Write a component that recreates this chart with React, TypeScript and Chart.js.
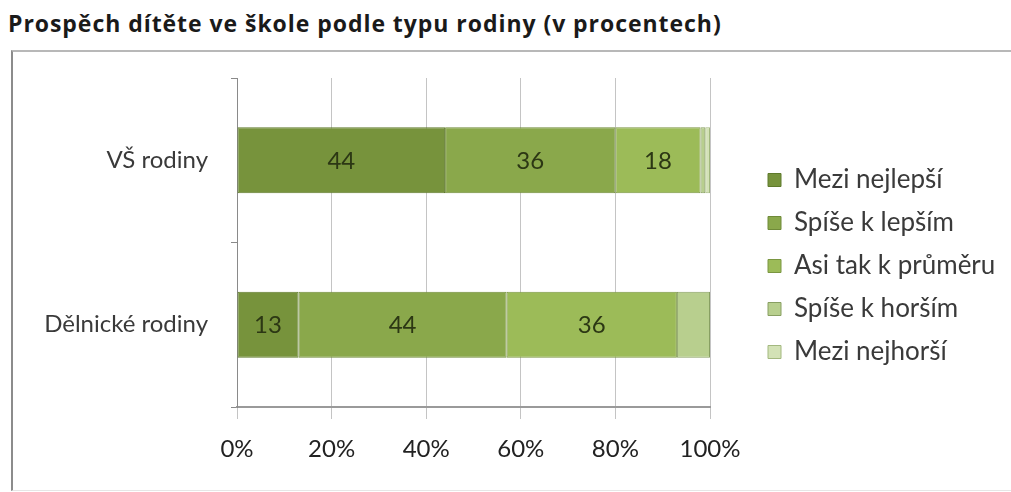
import { useEffect, useRef } from "react";
import { Chart, registerables } from "chart.js";

Chart.register(...registerables);

const TITLE = "Prospěch dítěte ve škole podle typu rodiny (v procentech)";
const categories = ["VŠ rodiny", "Dělnické rodiny"];
const seriesNames = [
  "Mezi nejlepší",
  "Spíše k lepším",
  "Asi tak k průměru",
  "Spíše k horším",
  "Mezi nejhorší",
];
const meziNejlepsi = [44, 13];
const spiseKLepsim = [36, 44];
const asiTakKPrumeru = [18, 36];
const spiseKHorsim = [1, 7];
const meziNejhorsi = [1, 0];
const seriesValues = [meziNejlepsi, spiseKLepsim, asiTakKPrumeru, spiseKHorsim, meziNejhorsi];
const labelledSeries = [true, true, true, false, false];
const xTickValues = [0, 20, 40, 60, 80, 100];

const seriesColors = ["#77933c", "#8aa84b", "#9cbb58", "#b8cf8e", "#d3e2b6"];
const seriesBorders = ["#5f7a2c", "#6f8a38", "#7a9641", "#889f62", "#a3b87f"];

const FONT = 'Lato, "Open Sans", "DejaVu Sans", sans-serif';
const TITLE_FONT = '"Open Sans", Lato, "DejaVu Sans", sans-serif';
const TEXT_COLOR = "#3a3a3a";
const LABEL_COLOR = "#2c3714";

const barLabels = {
  id: "barLabels",
  afterDatasetsDraw(chart: any) {
    const { ctx } = chart;
    ctx.save();
    ctx.font = `24px ${FONT}`;
    ctx.fillStyle = LABEL_COLOR;
    ctx.textAlign = "center";
    ctx.textBaseline = "middle";
    chart.data.datasets.forEach((ds: any, di: number) => {
      if (!labelledSeries[di]) return;
      const meta = chart.getDatasetMeta(di);
      meta.data.forEach((el: any, i: number) => {
        const v = ds.data[i];
        if (!v) return;
        const p = el.getProps(["x", "base", "y"], true);
        ctx.fillText(String(v), (p.x + p.base) / 2, p.y + 1);
      });
    });
    ctx.restore();
  },
};

const LEGEND_GAP = 41;
const LEGEND_TOP = 72;

const legendPlacement = {
  id: "legendPlacement",
  afterLayout(chart: any) {
    const lg = chart.legend;
    const ca = chart.chartArea;
    if (!lg || !ca) return;
    lg.left = ca.right + LEGEND_GAP;
    lg.right = lg.left + lg.width;
    lg.top = ca.top + LEGEND_TOP;
    lg.bottom = lg.top + lg.height;
  },
};

export default function App() {
  const ref = useRef<HTMLCanvasElement | null>(null);

  useEffect(() => {
    if (!ref.current) return;
    const chart = new Chart(ref.current, {
      type: "bar",
      data: {
        labels: categories,
        datasets: seriesNames.map((name, i) => ({
          label: name,
          data: seriesValues[i],
          backgroundColor: seriesColors[i],
          borderColor: seriesBorders[i],
          borderWidth: 1,
          borderSkipped: false,
          categoryPercentage: 1,
          barPercentage: 0.4,
        })),
      },
      options: {
        indexAxis: "y",
        responsive: false,
        animation: false,
        maintainAspectRatio: false,
        layout: { padding: { top: 25, right: 301, bottom: 0, left: 0 } },
        font: { family: FONT },
        scales: {
          x: {
            stacked: true,
            min: 0,
            max: 100,
            afterBuildTicks(scale: any) {
              scale.ticks = xTickValues.map((v) => ({ value: v }));
            },
            afterFit(scale: any) {
              scale.height = 81;
              scale.paddingLeft = 0;
              scale.paddingRight = 0;
            },
            grid: {
              color: "#c4c4c4",
              lineWidth: 1,
              drawTicks: true,
              tickLength: 12,
              tickColor: "#c4c4c4",
            },
            border: { display: true, color: "#9a9a9a", width: 2 },
            ticks: {
              padding: 16,
              color: "#222",
              font: { family: FONT, size: 24 },
              callback: (v: any) => `${v}%`,
            },
          },
          y: {
            stacked: true,
            afterFit(scale: any) {
              scale.width = 223;
              scale.paddingTop = 0;
              scale.paddingBottom = 0;
            },
            grid: {
              drawOnChartArea: false,
              drawTicks: true,
              tickLength: 6,
              tickColor: "#8a8a8a",
              offset: true,
            },
            border: { display: true, color: "#8a8a8a", width: 1 },
            ticks: {
              padding: 23,
              color: TEXT_COLOR,
              font: { family: FONT, size: 24 },
            },
          },
        },
        plugins: {
          title: { display: false },
          tooltip: { enabled: false },
          legend: {
            position: "chartArea" as any,
            align: "start",
            labels: {
              boxWidth: 13,
              boxHeight: 13,
              padding: 17,
              color: TEXT_COLOR,
              font: { family: FONT, size: 26 },
            },
          },
        },
      },
      plugins: [barLabels, legendPlacement],
    });
    return () => chart.destroy();
  }, []);

  return (
    <div
      style={{
        position: "absolute",
        left: 0,
        top: 0,
        width: 1011,
        height: 492,
        background: "#fff",
        overflow: "hidden",
      }}
    >
      <div
        style={{
          position: "absolute",
          left: 8,
          top: 12,
          fontFamily: TITLE_FONT,
          fontWeight: 700,
          fontSize: 23,
          lineHeight: "23px",
          letterSpacing: "0.95px",
          color: "#1a1a1a",
          whiteSpace: "nowrap",
        }}
      >
        {TITLE}
      </div>
      <div
        style={{
          position: "absolute",
          left: 11,
          top: 50,
          width: 1010,
          height: 438,
          borderLeft: "2px solid #8c8c8c",
          borderTop: "2px solid #b8b8b8",
          borderBottom: "1px solid #e6e6e6",
        }}
      />
      <canvas
        ref={ref}
        width={997}
        height={435}
        style={{ position: "absolute", left: 14, top: 53, width: 997, height: 435 }}
      />
    </div>
  );
}
